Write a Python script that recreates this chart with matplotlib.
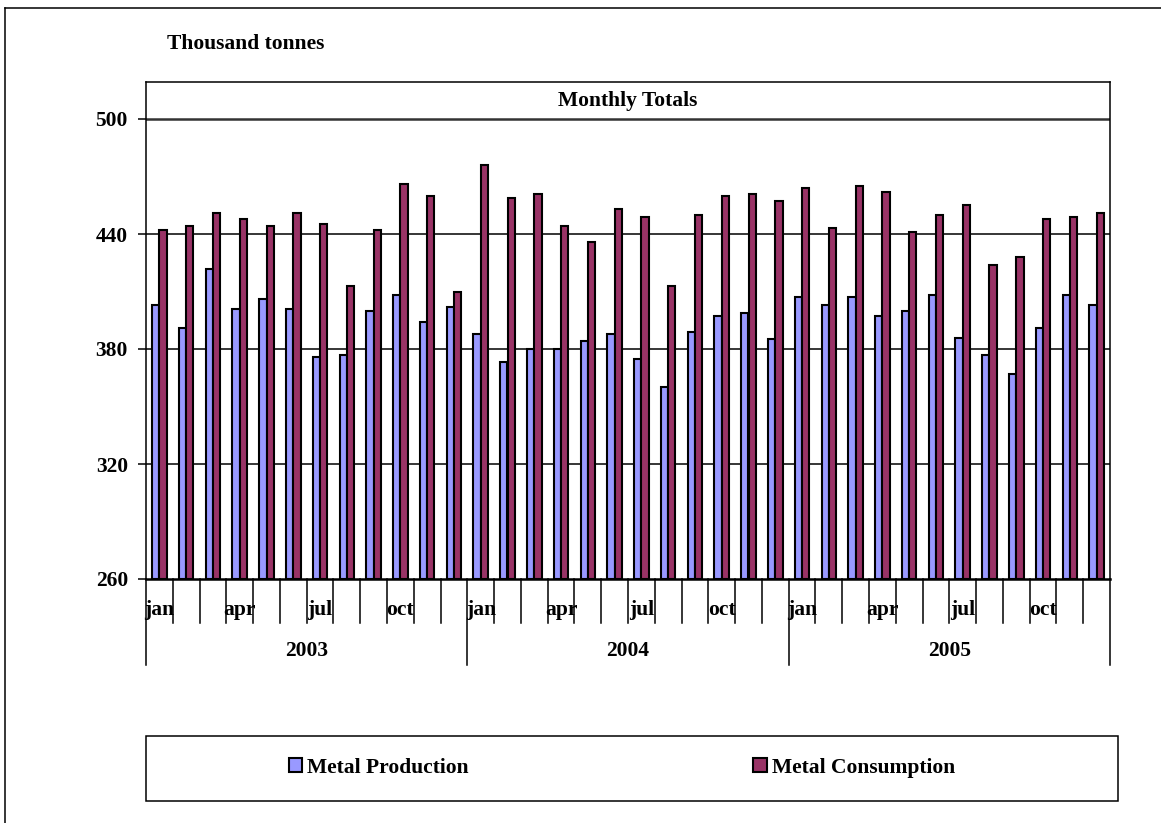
import matplotlib
matplotlib.use("Agg")
import matplotlib.pyplot as plt
import matplotlib.transforms as mtransforms
from matplotlib.patches import Rectangle
from matplotlib.lines import Line2D
import numpy as np

years = ["2003", "2004", "2005"]
months = ["jan", "feb", "mar", "apr", "may", "jun",
          "jul", "aug", "sep", "oct", "nov", "dec"]
shown_months = ["jan", "apr", "jul", "oct"]

production = [403, 391, 422, 401, 406, 401, 376, 377, 400, 408, 394, 402,
              388, 373, 380, 380, 384, 388, 375, 360, 389, 397, 399, 385,
              407, 403, 407, 397, 400, 408, 386, 377, 367, 391, 408, 403]
consumption = [442, 444, 451, 448, 444, 451, 445, 413, 442, 466, 460, 410,
               476, 459, 461, 444, 436, 453, 449, 413, 450, 460, 461, 457,
               464, 443, 465, 462, 441, 450, 455, 424, 428, 448, 449, 451]
yticks = [260, 320, 380, 440, 500]

W, H = 1161, 823
plt.rcParams['font.family'] = ['Liberation Serif', 'DejaVu Serif']
plt.rcParams['font.weight'] = 'bold'
FS = 15.5

fig = plt.figure(figsize=(W / 100, H / 100), dpi=100)

def fx(px):
    return px / W

def fy(py):
    return 1 - py / H

# plot area: left 146, right 1110, baseline 579, box top 82
ax = fig.add_axes([fx(146), fy(579), fx(1110) - fx(146), fy(82) - fy(579)])
px_per_unit = (579 - 119) / 240.0
ax.set_ylim(260, 260 + (579 - 82) / px_per_unit)
n = len(production)
ax.set_xlim(-0.5, n - 0.5)

x = np.arange(n)
w = 0.27
ax.bar(x - w / 2, np.array(production) - 260, w, bottom=260, color='#9999FF',
       edgecolor='black', linewidth=1.5, zorder=3, label='Metal Production')
ax.bar(x + w / 2, np.array(consumption) - 260, w, bottom=260, color='#993366',
       edgecolor='black', linewidth=1.5, zorder=3, label='Metal Consumption')

for v in yticks[1:-1]:
    ax.axhline(v, color='black', linewidth=1.1, zorder=1)
ax.axhline(500, color='#333333', linewidth=1.8, zorder=1)

ax.set_yticks(yticks)
ax.set_yticklabels([str(v) for v in yticks], fontsize=FS, fontweight='bold')
ax.tick_params(axis='y', direction='out', length=6, width=1.1, pad=7)
ax.set_xticks([])
for s in ['left', 'right', 'top']:
    ax.spines[s].set_linewidth(1.1)
ax.spines['bottom'].set_linewidth(1.8)

ax.text(0.5, fy(101), "Monthly Totals",
        transform=mtransforms.blended_transform_factory(ax.transAxes, fig.transFigure),
        ha='center', va='center', fontsize=FS, fontweight='bold')

# category axis below
tr = mtransforms.blended_transform_factory(ax.transData, fig.transFigure)
for i in range(n + 1):
    bottom = 665 if i % 12 == 0 else 623
    fig.add_artist(Line2D([i - 0.5, i - 0.5], [fy(579), fy(bottom)], transform=tr,
                          color='black', linewidth=1.1))
for yi, yr in enumerate(years):
    for mi, m in enumerate(months):
        if m in shown_months:
            fig.text(yi * 12 + mi, fy(610), m, transform=tr, ha='center', va='center',
                     fontsize=FS, fontweight='bold')
    fig.text(yi * 12 + 5.5, fy(651), yr, transform=tr, ha='center', va='center',
             fontsize=FS, fontweight='bold')

fig.text(fx(167), fy(44), "Thousand tonnes", ha='left', va='center',
         fontsize=FS, fontweight='bold')

# legend box
fig.add_artist(Rectangle((fx(146), fy(801)), fx(1118) - fx(146), fy(736) - fy(801),
                         transform=fig.transFigure, fill=False, edgecolor='black', linewidth=1.1))
handles, labels = ax.get_legend_handles_labels()
fig.legend(handles, labels, loc='center', bbox_to_anchor=(fx(622), fy(768)),
           ncol=2, frameon=False, columnspacing=13.2,
           handlelength=0.62, handleheight=0.62, handletextpad=0.25,
           prop={'weight': 'bold', 'size': FS})

# outer chart border (left and top edges visible)
fig.add_artist(Line2D([fx(5), fx(5)], [fy(8), 0], transform=fig.transFigure, color='black', linewidth=1.1))
fig.add_artist(Line2D([fx(5), 1], [fy(8), fy(8)], transform=fig.transFigure, color='black', linewidth=1.1))

fig.savefig("out.png", dpi=100)
